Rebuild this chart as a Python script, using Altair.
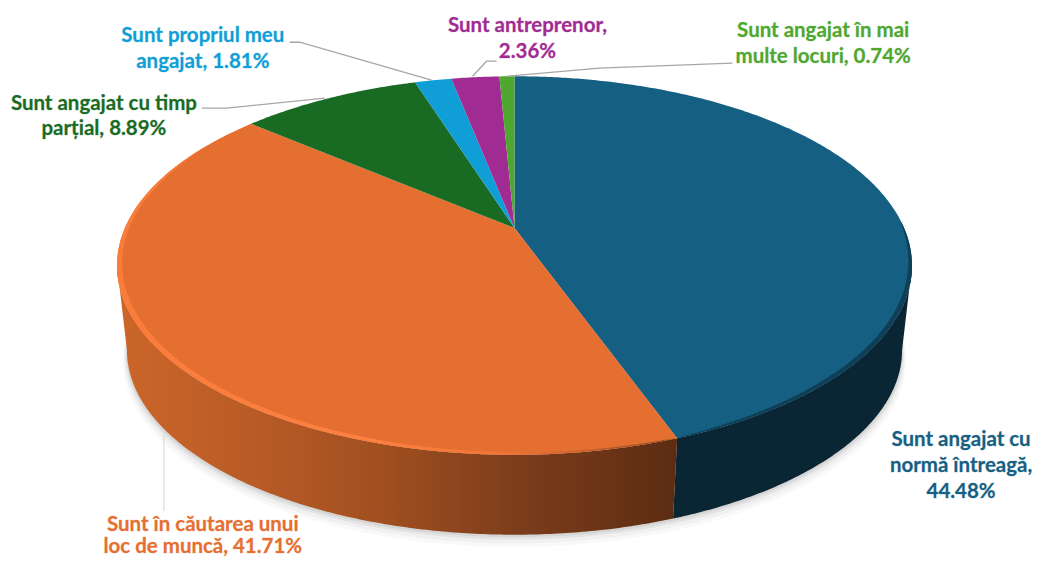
import math
import altair as alt
import pandas as pd

# ---- chart values ----
categories = ["Sunt angajat cu normă întreagă", "Sunt în căutarea unui loc de muncă",
              "Sunt angajat cu timp parțial", "Sunt propriul meu angajat",
              "Sunt antreprenor", "Sunt angajat în mai multe locuri"]
values = [44.48, 41.71, 8.89, 1.81, 2.36, 0.74]
colors = ["#156082", "#E56F30", "#196B24", "#0F9ED5", "#A02B93", "#4EA72E"]
label_lines = [
    ["Sunt angajat cu", "normă întreagă,", "44.48%"],
    ["Sunt în căutarea unui", "loc de muncă, 41.71%"],
    ["Sunt angajat cu timp", "parțial, 8.89%"],
    ["Sunt propriul meu", "angajat, 1.81%"],
    ["Sunt antreprenor,", "2.36%"],
    ["Sunt angajat în mai", "multe locuri, 0.74%"],
]

# ---- layout (page pixels) ----
OFF = 8
label_x = [962, 203, 104, 203, 528, 824]
label_y = [[440, 466, 492], [525, 547], [104, 129], [36, 62], [26, 52], [31, 57]]
leaders = [
    [(164, 433), (164, 511)],
    [(202, 108), (227, 108), (325, 98)],
    [(290, 42), (300, 42), (432, 80)],
    [(497, 61), (487, 61), (473, 76)],
    [(733, 63), (600, 68), (507, 76)],
]
leader_colors = ["#dcdcdc", "#a6a6a6", "#a6a6a6", "#a6a6a6", "#a6a6a6"]

CX, CY, A, B, K = 515, 228, 390, 182, 0.198
BOT_CY, BOT_S = 313.7, 0.975


def pt(theta, r=1.0, cy=CY, s=1.0):
    t = math.radians(theta)
    u, v = r * math.sin(t), -r * math.cos(t)
    w = 1 - K * v
    return [CX + s * A * u / w - OFF, cy + s * B * v / w - OFF]


def arc(t0, t1, **kw):
    n = max(2, int(abs(t1 - t0)) * 2 + 1)
    return [pt(t0 + (t1 - t0) * i / (n - 1), **kw) for i in range(n)]


def crescent(t0, t1, depth):
    """A band along the rim that tapers to nothing at both ends."""
    n = int(abs(t1 - t0)) * 2 + 1
    outer = [pt(t0 + (t1 - t0) * i / (n - 1)) for i in range(n)]
    inner = [pt(t0 + (t1 - t0) * i / (n - 1),
                r=1 - depth * math.sin(math.pi * i / (n - 1)) ** 0.5) for i in range(n)]
    return outer + inner[::-1]


def feature(ring):
    ring = ring + [ring[0]]
    return {"type": "Feature", "properties": {},
            "geometry": {"type": "Polygon", "coordinates": [ring]}}


def poly(rings, fill, **mk):
    return (alt.Chart(alt.Data(values=[feature(r) for r in rings]))
            .mark_geoshape(fill=fill, strokeWidth=0, **mk)
            .project(type="identity", scale=1, translate=[0, 0]))


def grad(stops):
    return alt.Gradient(gradient="linear", x1=0, x2=1, y1=0, y2=0,
                        stops=[alt.GradientStop(offset=o, color=c) for o, c in stops])


# slice boundaries
bounds = [0]
for val in values:
    bounds.append(bounds[-1] + val / sum(values) * 360)

layers = []

# soft shadow beneath the body
for d, op in [(10, 0.025), (7, 0.035), (4, 0.05), (2, 0.06)]:
    layers.append(poly([arc(60, 300, cy=BOT_CY + d, s=BOT_S + d * 0.001)], "#000000", opacity=op))

# side walls
SIL_R, SIL_L = 101.4, 258.6
wall_blue = arc(SIL_R, bounds[1]) + arc(bounds[1], SIL_R, cy=BOT_CY, s=BOT_S)
wall_orange = arc(bounds[1], SIL_L) + arc(SIL_L, bounds[1], cy=BOT_CY, s=BOT_S)
layers.append(poly([wall_blue], "#0A2533"))
layers.append(poly([wall_orange], grad([(0, "#CC6629"), (0.25, "#B85B26"), (0.48, "#A04F20"),
                                        (0.7, "#7E3E1B"), (1, "#5C2C12")])))

# top faces
for i, c in enumerate(colors):
    ring = [[CX - OFF, CY - OFF]] + arc(bounds[i], bounds[i + 1])
    layers.append(poly([ring], c))

# bevel along the near rim
rim_o = crescent(bounds[1], 300, 0.014)
layers.append(poly([rim_o], grad([(0, "#FA7C3A"), (0.45, "#FC8040"), (0.68, "#F0763A"),
                                  (0.82, "#D0652E"), (1, "#8A4522")])))
rim_b = crescent(88, bounds[1], 0.012)
layers.append(poly([rim_b], "#0E3F57"))

# leader lines
rows = []
for i, (seg, c) in enumerate(zip(leaders, leader_colors)):
    for j, (x, y) in enumerate(seg):
        rows.append({"id": i, "o": j, "x": x - OFF, "y": y - OFF, "c": c})
layers.append(
    alt.Chart(pd.DataFrame(rows)).mark_line(strokeWidth=1.3).encode(
        x=alt.X("x:Q", scale=None, axis=None),
        y=alt.Y("y:Q", scale=None, axis=None),
        detail="id:N", order="o:Q",
        color=alt.Color("c:N", scale=None, legend=None),
    )
)

# labels
rows = []
for i, lines in enumerate(label_lines):
    for ln, y in zip(lines, label_y[i]):
        rows.append({"t": ln, "x": label_x[i] - OFF, "y": y - OFF, "c": colors[i]})
layers.append(
    alt.Chart(pd.DataFrame(rows)).mark_text(
        font="Lato", fontSize=20.5, fontWeight="bold", align="center", baseline="middle",
        strokeWidth=1, strokeOpacity=0.25,
    ).encode(
        x=alt.X("x:Q", scale=None, axis=None),
        y=alt.Y("y:Q", scale=None, axis=None),
        text="t:N",
        color=alt.Color("c:N", scale=None, legend=None),
        stroke=alt.Stroke("c:N", scale=None, legend=None),
    )
)

chart = (alt.layer(*layers)
         .properties(width=1025, height=547, padding=0, background="white")
         .configure_view(stroke=None))
chart.save("out.html", embed_options={"renderer": "svg", "actions": False})
